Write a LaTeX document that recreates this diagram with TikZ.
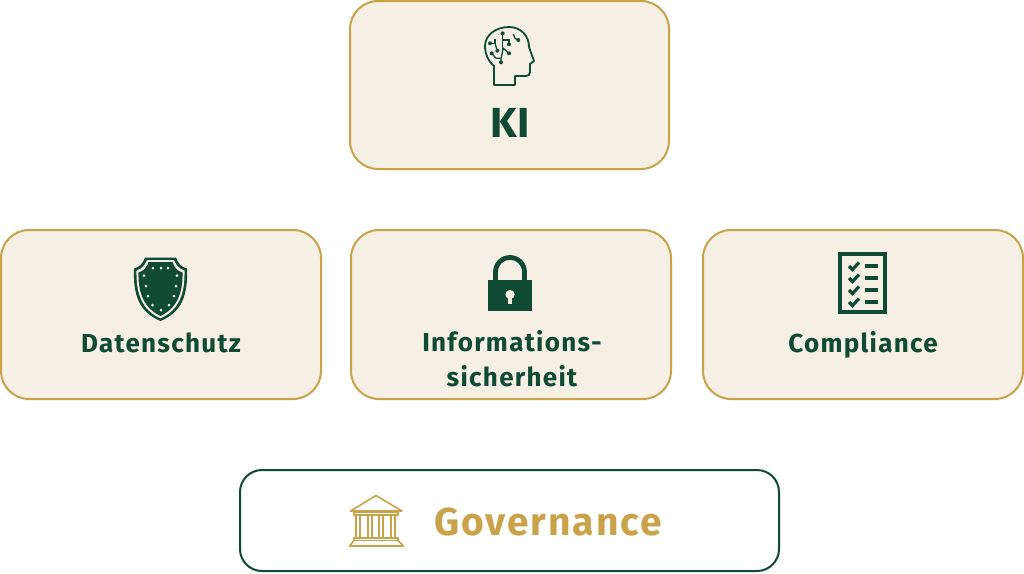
\documentclass[tikz,border=0pt]{standalone}
\usepackage{fontspec}
\setmainfont{Fira Sans}
\definecolor{cream}{HTML}{F5EFE4}
\definecolor{gold}{HTML}{C9A24A}
\definecolor{dgreen}{HTML}{0F4A35}
\tikzset{
  card/.style={draw=gold,fill=cream,line width=2pt,rounded corners=28pt},
  govcard/.style={draw=dgreen,fill=white,line width=2pt,rounded corners=22pt},
  lbl/.style={text=dgreen,font=\bfseries\fontsize{26}{35}\selectfont\addfontfeature{LetterSpace=5},align=center,inner sep=0pt,anchor=base},
  icon/.style={draw=dgreen,line width=1.8pt,line join=round},
  trace/.style={draw=dgreen,line width=1.3pt},
  dotg/.style={fill=dgreen,draw=none},
  temple/.style={draw=gold,line width=1.6pt,line join=round,fill=none}
}
\begin{document}
\begin{tikzpicture}[x=1pt,y=-1pt]
\useasboundingbox (0,0) rectangle (1024,573);
\fill[white] (0,0) rectangle (1024,573);
% cards
\draw[card] (350,1) rectangle (669,169);
\draw[card] (1,230) rectangle (321,399);
\draw[card] (351,230) rectangle (671,399);
\draw[card] (703,230) rectangle (1023,399);
\draw[govcard] (240,470) rectangle (779,571);
% labels
\node[lbl,font=\bfseries\fontsize{42}{44}\selectfont] (ki) at (510,137) {KI};
\node[lbl] (daten) at (161,352) {Datenschutz};
\node[lbl] (info) at (512,351) {Informations-};
\node[lbl] (info2) at (512,386) {sicherheit};
\node[lbl] (comp) at (863,352) {Compliance};
\node[lbl,text=gold,font=\bfseries\fontsize{39}{40}\selectfont\addfontfeature{LetterSpace=5}] (gov) at (548,535) {Governance};
% head
\draw[icon] (494,85) -- (494,66) .. controls (488,61) and (485,54) .. (485,46)
  .. controls (485,35) and (496,27) .. (509,27)
  .. controls (521,27) and (529,36) .. (529,47)
  -- (534,61) -- (530,64) -- (530,72) .. controls (530,75) and (528,76) .. (526,76)
  -- (515,76) -- (515,85) -- cycle;
\draw[trace] (502.7,33.3) -- (502.7,51.7);
\draw[trace] (502.7,40) -- (509,40) -- (509,44.3);
\draw[trace] (490,43.3) -- (495,43.3) -- (495,39.3);
\draw[trace] (495,43.3) -- (497.3,50.7);
\draw[trace] (491.7,53.3) -- (496,58.3) -- (501,58.3) -- (501,62.3);
\draw[trace] (501,58.3) -- (503.3,48.3) -- (509,53.3);
\draw[trace] (513.3,34) -- (515,38.3) -- (518.3,40);
\foreach \p in {(502.7,33.3),(509,44.3),(490,43.3),(497.3,50.7),(491.7,53.3),(501,62.3),(509,53.3),(518.3,40)}
  \fill[dotg] \p circle (2pt);
% shield
\fill[dgreen] (145,257.5) -- (176,257.5) .. controls (178,263) and (181,267) .. (187,268.5)
  .. controls (188,295) and (182,312) .. (160.5,321)
  .. controls (139,312) and (133,295) .. (134,268.5)
  .. controls (140,267) and (143,263) .. (145,257.5) -- cycle;
\fill[cream] (147,260) -- (174,260) .. controls (176,265) and (179,269) .. (184.5,270.5)
  .. controls (185,294) and (179,310) .. (160.5,318.3)
  .. controls (142,310) and (136,294) .. (136.5,270.5)
  .. controls (142,269) and (145,265) .. (147,260) -- cycle;
\fill[dgreen] (148.5,262) -- (172.5,262) .. controls (174,267) and (177,271) .. (182.5,272.5)
  .. controls (183,293) and (177,308) .. (160.5,316)
  .. controls (144,308) and (138,293) .. (138.5,272.5)
  .. controls (144,271) and (147,267) .. (148.5,262) -- cycle;
\foreach \p in {(153,268),(161,268),(168,268),(144,275.5),(177,275.5),(146,286),(176,286),(148,296),(174,296),(152.5,305),(169,305),(161,310)}
  \fill[cream] \p circle (1.5pt);
% lock
\draw[dgreen,line width=4.8pt] (495.5,281) -- (495.5,272) arc[start angle=180,end angle=360,radius=14.5] -- (524.5,281);
\fill[dgreen] (488,280) rectangle (532,311);
\fill[cream] (510,294.5) circle (4.6pt);
\fill[cream] (508,296) rectangle (512,303.5);
% checklist
\draw[dgreen,line width=4.4pt] (840,254) rectangle (885,312);
\foreach \yy in {266,278,290,302}{
  \draw[dgreen,line width=3.2pt] (849,\yy) -- (852.5,\yy+3.5) -- (859,\yy-3.5);
  \draw[dgreen,line width=3.2pt] (864.5,\yy) -- (877.5,\yy);
}
% temple
\draw[temple] (376,495.5) -- (350.5,511) -- (402,511) -- cycle;
\draw[temple] (354,512) rectangle (398,515);
\foreach \xx in {356,368,379,391}
  \draw[temple] (\xx,515) rectangle (\xx+4,538);
\draw[temple] (354,538) rectangle (398,540.5);
\draw[temple] (354,540.5) -- (349.5,546) -- (403.5,546) -- (398,540.5);
\end{tikzpicture}
\end{document}
